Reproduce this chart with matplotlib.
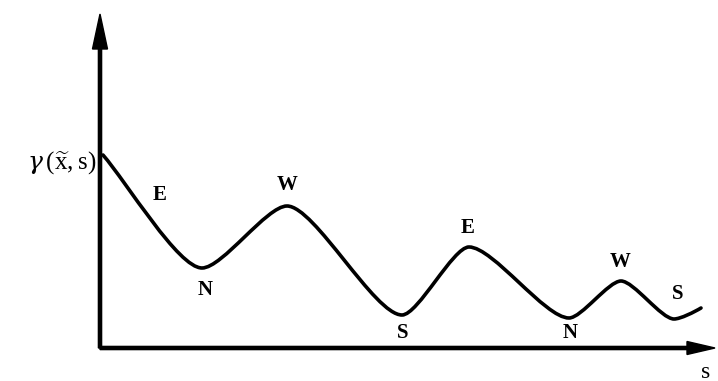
import matplotlib.pyplot as plt
from matplotlib.path import Path
from matplotlib.patches import PathPatch

# key points of the curve (s, gamma) and the slope of the curve at each one
curve_s = [3, 102, 187, 302, 369, 469, 521, 574, 601]
curve_g = [193, 80, 142, 33, 101, 30, 67, 29, 40]
curve_slope = [-1.15, 0, 0, 0, 0, 0, 0, 0, 0.6]

# letter labels along the curve
label_text = ['E', 'N', 'W', 'S', 'E', 'N', 'W', 'S']
label_s = [60, 105, 187, 303, 368, 470, 520, 578]
label_g = [153, 58, 163, 15, 120, 15, 86, 54]

s_max = 615
g_max = 334

plt.rcParams['mathtext.fontset'] = 'custom'
plt.rcParams['mathtext.rm'] = 'Liberation Serif'
plt.rcParams['mathtext.it'] = 'DejaVu Serif:italic'

fig = plt.figure(figsize=(7.18, 3.81), dpi=100)
ax = fig.add_axes([100 / 718, 33 / 381, s_max / 718, g_max / 381])
ax.set_xlim(0, s_max)
ax.set_ylim(0, g_max)
ax.axis('off')

# axes with arrow heads
ax.arrow(0, 0, 0, g_max, width=3.2, head_width=15, head_length=35,
         length_includes_head=True, color='black', clip_on=False)
ax.arrow(0, 0, s_max, 0, width=3.2, head_width=13, head_length=28,
         length_includes_head=True, color='black', clip_on=False)

# smooth curve from cubic bezier pieces
k = 0.24
verts = [(curve_s[0], curve_g[0])]
codes = [Path.MOVETO]
for i in range(len(curve_s) - 1):
    dx = curve_s[i + 1] - curve_s[i]
    c1 = (curve_s[i] + k * dx, curve_g[i] + k * dx * curve_slope[i])
    c2 = (curve_s[i + 1] - k * dx, curve_g[i + 1] - k * dx * curve_slope[i + 1])
    verts += [c1, c2, (curve_s[i + 1], curve_g[i + 1])]
    codes += [Path.CURVE4] * 3
ax.add_patch(PathPatch(Path(verts, codes), fill=False, lw=2.6,
                       edgecolor='black', capstyle='round', joinstyle='round'))

for t, x, y in zip(label_text, label_s, label_g):
    ax.text(x, y, t, ha='center', va='center', fontsize=15,
            family='Liberation Serif', fontweight='bold')

ax.text(606, -24, 's', ha='center', va='center', fontsize=17,
        family='Liberation Serif', clip_on=False)
ax.text(-3, 185, r'$\gamma\,(\widetilde{\mathrm{x}},\mathrm{s})$', ha='right',
        va='center', fontsize=18, clip_on=False)

fig.savefig('out.png', dpi=100)
plt.close()
